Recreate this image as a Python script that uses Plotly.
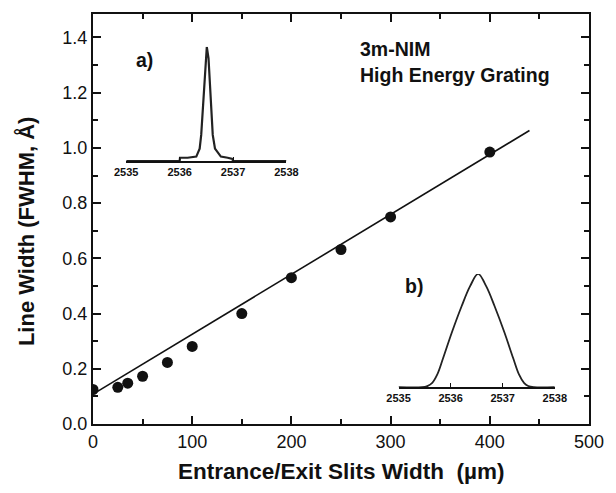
import plotly.graph_objects as go

# Main data: line width vs slit width
slit_width = [0, 25, 35, 50, 75, 100, 150, 200, 250, 300, 400]
fwhm = [0.125, 0.133, 0.148, 0.173, 0.223, 0.281, 0.40, 0.53, 0.632, 0.75, 0.985]

# Linear fit line endpoints
fit_x = [0, 440]
fit_y = [0.108, 1.063]

# Inset a) profile (narrow slits)
a_wl = [2535.0, 2536.0, 2536.007, 2536.15, 2536.312, 2536.375, 2536.404, 2536.436, 2536.467, 2536.485,
        2536.509, 2536.541, 2536.559, 2536.588, 2536.620, 2536.662, 2536.772, 2536.9, 2536.988, 2537.0, 2538.0]
a_int = [0.0, 0.0, 0.03, 0.03, 0.04, 0.11, 0.23, 0.46, 0.75, 0.9,
         1.0, 0.9, 0.75, 0.46, 0.23, 0.11, 0.04, 0.03, 0.02, 0.0, 0.0]

# Inset b) profile (wide slits)
b_wl = [2535.0, 2535.45, 2535.553, 2535.647, 2535.742, 2535.855, 2536.025, 2536.213, 2536.372, 2536.528,
        2536.685, 2536.843, 2537.032, 2537.202, 2537.315, 2537.409, 2537.49, 2537.6, 2538.0]
b_int = [0.0, 0.0, 0.01, 0.038, 0.11, 0.255, 0.485, 0.717, 0.89, 1.0,
         0.89, 0.717, 0.485, 0.255, 0.11, 0.038, 0.01, 0.0, 0.0]

inset_ticks = [2535, 2536, 2537, 2538]
inset_labels = ["2535", "2536", "2537", "2538"]
x_major = [0, 100, 200, 300, 400, 500]
x_minor = [50, 150, 250, 350, 450]
y_major = [0.0, 0.2, 0.4, 0.6, 0.8, 1.0, 1.2, 1.4]
y_minor = [0.1, 0.3, 0.5, 0.7, 0.9, 1.1, 1.3]

x_range = [0, 500]
y_range = [0, 1.485]

FONT = "Liberation Sans, Arial, sans-serif"
INK = "#111111"

fig = go.Figure()

fig.add_trace(go.Scatter(x=fit_x, y=fit_y, mode="lines",
                         line=dict(color=INK, width=1.6),
                         showlegend=False, xaxis="x", yaxis="y"))
fig.add_trace(go.Scatter(x=slit_width, y=fwhm, mode="markers",
                         marker=dict(color=INK, size=11),
                         showlegend=False, xaxis="x", yaxis="y"))
# invisible trace hosting the minor-tick axes
fig.add_trace(go.Scatter(x=[slit_width[0]], y=[fwhm[0]], mode="markers",
                         marker=dict(opacity=0), hoverinfo="skip",
                         showlegend=False, xaxis="x4", yaxis="y4"))

fig.add_trace(go.Scatter(x=a_wl, y=a_int, mode="lines",
                         line=dict(color="#222222", width=2.2),
                         showlegend=False, xaxis="x2", yaxis="y2"))
fig.add_trace(go.Scatter(x=b_wl, y=b_int, mode="lines", line_shape="spline",
                         line=dict(color="#222222", width=1.8),
                         showlegend=False, xaxis="x3", yaxis="y3"))

axis_common = dict(showgrid=False, zeroline=False, showline=True, linecolor=INK,
                   linewidth=2, ticks="inside", tickcolor=INK, tickwidth=1.5,
                   ticklen=8, mirror="ticks",
                   tickfont=dict(family=FONT, size=18, color=INK))

minor_common = dict(showgrid=False, zeroline=False, showline=False, ticks="inside",
                    tickcolor=INK, tickwidth=1.5, ticklen=5, mirror="ticks",
                    showticklabels=False)

inset_x = dict(range=[2535, 2538], tickvals=inset_ticks,
               ticktext=["<b>" + t + "</b>" for t in inset_labels],
               ticks="inside", ticklen=4,
               tickcolor=INK, showline=True, linecolor=INK, linewidth=1.5,
               showgrid=False, zeroline=False,
               tickfont=dict(family=FONT, size=11, color=INK))

inset_y = dict(range=[0, 1.0], showline=False, showgrid=False, zeroline=False,
               showticklabels=False, ticks="")

label_font = dict(family=FONT, size=19.5, color=INK)
title_font = dict(family=FONT, size=22.5, color=INK)

fig.update_layout(
    width=600, height=477,
    margin=dict(l=85, r=10, t=4, b=61),
    paper_bgcolor="white", plot_bgcolor="white",
    xaxis=dict(range=x_range, tickvals=x_major, **axis_common),
    yaxis=dict(range=y_range, tickvals=y_major, tickformat=".1f", **axis_common),
    xaxis4=dict(range=x_range, tickvals=x_minor, overlaying="x", anchor="y4", **minor_common),
    yaxis4=dict(range=y_range, tickvals=y_minor, overlaying="y", anchor="x4", **minor_common),
    xaxis2=dict(domain=[0.067, 0.390], anchor="y2", **inset_x),
    yaxis2=dict(domain=[0.641, 0.92], anchor="x2", **inset_y),
    xaxis3=dict(domain=[0.616, 0.931], anchor="y3", **inset_x),
    yaxis3=dict(domain=[0.0898, 0.366], anchor="x3", **inset_y),
    annotations=[
        dict(text="<b>Entrance/Exit Slits Width  (µm)</b>", x=0.5, y=-0.1165, xref="paper", yref="paper",
             xanchor="center", yanchor="middle", showarrow=False, font=title_font),
        dict(text="<b>Line Width (FWHM, Å)</b>", x=-0.1347, y=0.471, xref="paper", yref="paper",
             xanchor="center", yanchor="middle", showarrow=False, textangle=-90,
             font=dict(family=FONT, size=22, color=INK)),
        dict(text="<b>3m-NIM</b>", x=0.535, y=0.915, xref="paper", yref="paper",
             xanchor="left", yanchor="middle", showarrow=False, font=label_font),
        dict(text="<b>High Energy Grating</b>", x=0.535, y=0.852, xref="paper", yref="paper",
             xanchor="left", yanchor="middle", showarrow=False, font=label_font),
        dict(text="<b>a)</b>", x=0.083, y=0.888, xref="paper", yref="paper",
             xanchor="left", yanchor="middle", showarrow=False, font=label_font),
        dict(text="<b>b)</b>", x=0.624, y=0.337, xref="paper", yref="paper",
             xanchor="left", yanchor="middle", showarrow=False, font=label_font),
    ],
)

fig.write_html("out.html")
